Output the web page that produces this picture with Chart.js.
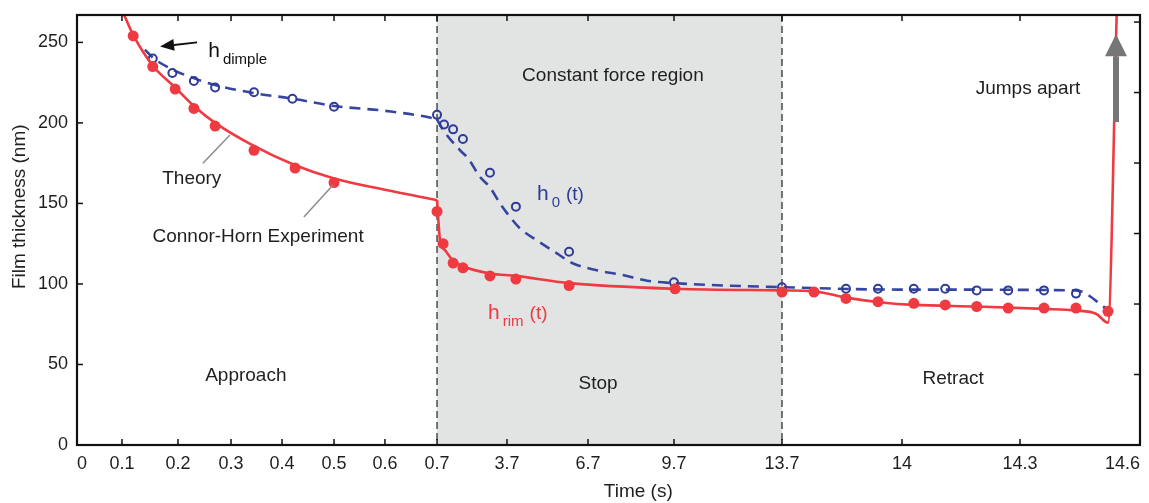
<!DOCTYPE html>
<html>
<head>
<meta charset="utf-8">
<title>Film thickness vs time</title>
<script src="https://cdn.jsdelivr.net/npm/chart.js@4.4.1/dist/chart.umd.min.js"></script>
<style>
  body { margin: 0; background: #fff; }
  canvas { display: block; }
</style>
</head>
<body>
<canvas id="filmChart" width="1149" height="503"></canvas>
<script>
// time axis is broken: every tick gets its own slot, not a linear scale
const timeTicks = [0, 0.1, 0.2, 0.3, 0.4, 0.5, 0.6, 0.7, 3.7, 6.7, 9.7, 13.7, 14, 14.3, 14.6];
const timeTickLabels = ["0", "0.1", "0.2", "0.3", "0.4", "0.5", "0.6", "0.7", "3.7", "6.7", "9.7", "13.7", "14", "14.3", "14.6"];
const thicknessTicks = [0, 50, 100, 150, 200, 250];

// Connor-Horn experiment: rim (filled dots) and centre h0 (open circles)
const rimTimes = [0.12, 0.155, 0.195, 0.23, 0.27, 0.345, 0.425, 0.5, 0.7, 0.96, 1.39, 1.81, 2.97, 4.03, 6.0, 9.74, 13.7, 13.78, 13.86, 13.94, 14.03, 14.11, 14.19, 14.27, 14.36, 14.44, 14.52];
const rimValues = [254, 235, 221, 209, 198, 183, 172, 163, 145, 125, 113, 110, 105, 103, 99, 97, 95, 95, 91, 89, 88, 87, 86, 85, 85, 85, 83];

const centreTimes = [0.155, 0.19, 0.23, 0.27, 0.345, 0.42, 0.5, 0.7, 1.0, 1.39, 1.81, 2.97, 4.03, 6.0, 9.7, 13.7, 13.86, 13.94, 14.03, 14.11, 14.19, 14.27, 14.36, 14.44];
const centreValues = [240, 231, 226, 222, 219, 215, 210, 205, 199, 196, 190, 169, 148, 120, 101, 98, 97, 97, 97, 97, 96, 96, 96, 94];

// theory curves
const rimTheoryTimes = [0.1, 0.121, 0.155, 0.195, 0.23, 0.268, 0.343, 0.423, 0.5, 0.6, 0.7, 0.83, 1.04, 1.39, 1.81, 2.97, 4.03, 6.0, 9.74, 13.7, 13.78, 13.86, 13.95, 14.03, 14.19, 14.36, 14.44, 14.49, 14.52, 14.542];
const rimTheoryValues = [270, 254, 235.5, 222, 210.5, 200.5, 186, 174, 165.5, 158.5, 152, 127, 121, 114.5, 111, 106.5, 105, 100.5, 97, 96, 95.5, 91.5, 88.5, 87, 86, 84.5, 83.5, 81.5, 76, 270];

const centreTheoryTimes = [0.141, 0.155, 0.191, 0.232, 0.27, 0.345, 0.421, 0.5, 0.6, 0.69, 0.7, 1.04, 1.69, 2.03, 2.54, 2.97, 3.4, 3.7, 4.18, 4.81, 5.55, 6.11, 7.01, 7.92, 8.76, 9.7, 13.7, 13.99, 14.44, 14.52];
const centreTheoryValues = [245.5, 240.5, 233, 227.5, 223.5, 218.5, 215, 210.5, 207.5, 203, 202, 194, 183, 178, 166.5, 160, 150, 144, 134.5, 127, 119, 113, 108.5, 105.5, 102, 100.5, 98, 96.5, 96, 84];

const stopStart = 0.7;
const stopEnd = 13.7;

// where each time tick sits along the axis (fraction of the width)
const tickSlots = [0, 0.0423, 0.095, 0.1449, 0.1929, 0.2418, 0.2897, 0.3387, 0.4045, 0.4807, 0.5616, 0.6632, 0.7761, 0.8871, 1];

const RED = "#ef3a41";
const BLUE = "#2f3c97";
const INK = "#1f1f1f";
const FONT = '"Liberation Sans", Arial, Helvetica, sans-serif';

function lerpTable(v, from, to) {
  if (v <= from[0]) return to[0] + (v - from[0]) * (to[1] - to[0]) / (from[1] - from[0]);
  for (let i = 1; i < from.length; i++) {
    if (v <= from[i]) {
      const f = (v - from[i - 1]) / (from[i] - from[i - 1]);
      return to[i - 1] + f * (to[i] - to[i - 1]);
    }
  }
  const n = from.length - 1;
  return to[n] + (v - from[n]) * (to[n] - to[n - 1]) / (from[n] - from[n - 1]);
}

class SegmentedTimeScale extends Chart.LinearScale {
  static id = "segmentedTime";
  static defaults = Chart.LinearScale.defaults;

  determineDataLimits() {
    this.min = timeTicks[0];
    this.max = timeTicks[timeTicks.length - 1];
  }
  buildTicks() {
    return timeTicks.map((value) => ({ value }));
  }
  getPixelForValue(value) {
    return this.getPixelForDecimal(lerpTable(value, timeTicks, tickSlots));
  }
  getValueForPixel(pixel) {
    return lerpTable(this.getDecimalForPixel(pixel), tickSlots, timeTicks);
  }
}
Chart.register(SegmentedTimeScale);

const toPoints = (xs, ys) => xs.map((x, i) => ({ x, y: ys[i] }));
// theory curves have a kink where the stop starts, so split them there
const beforeStop = (pts) => pts.filter((p) => p.x <= stopStart);
const fromStop = (pts) => pts.filter((p) => p.x >= stopStart);

// plain labels, placed in data units (time, thickness)
const notes = [
  { text: "Constant force region", t: 7.57, v: 229 },
  { text: "Jumps apart", t: 14.32, v: 221 },
  { text: "Approach", t: 0.329, v: 43 },
  { text: "Stop", t: 7.05, v: 38 },
  { text: "Retract", t: 14.13, v: 41 },
  { text: "Theory", t: 0.226, v: 165.5 },
  { text: "Connor-Horn Experiment", t: 0.353, v: 129 },
];

function arrow(ctx, x0, y0, x1, y1, head, half, width, color) {
  const a = Math.atan2(y1 - y0, x1 - x0);
  const bx = x1 - head * Math.cos(a);
  const by = y1 - head * Math.sin(a);
  ctx.strokeStyle = color;
  ctx.fillStyle = color;
  ctx.lineWidth = width;
  ctx.lineCap = "butt";
  ctx.beginPath();
  ctx.moveTo(x0, y0);
  ctx.lineTo(bx, by);
  ctx.stroke();
  ctx.beginPath();
  ctx.moveTo(x1, y1);
  ctx.lineTo(bx + half * Math.sin(a), by - half * Math.cos(a));
  ctx.lineTo(bx - half * Math.sin(a), by + half * Math.cos(a));
  ctx.closePath();
  ctx.fill();
}

function subLabel(ctx, x, y, base, sub, tail, color) {
  ctx.fillStyle = color;
  ctx.textAlign = "left";
  ctx.textBaseline = "alphabetic";
  ctx.font = `21px ${FONT}`;
  ctx.fillText(base, x, y);
  let cx = x + ctx.measureText(base).width + 3;
  ctx.font = `15px ${FONT}`;
  ctx.fillText(sub, cx, y + 7);
  cx += ctx.measureText(sub).width + 6;
  if (tail) {
    ctx.font = `19px ${FONT}`;
    ctx.fillText(tail, cx, y);
  }
}

const figureDecor = {
  id: "figureDecor",
  beforeDatasetsDraw(chart) {
    const { ctx, chartArea: area, scales } = chart;
    const xl = scales.x.getPixelForValue(stopStart);
    const xr = scales.x.getPixelForValue(stopEnd);
    ctx.save();
    ctx.fillStyle = "#e2e4e4";
    ctx.fillRect(xl, area.top, xr - xl, area.bottom - area.top);
    ctx.strokeStyle = "#4a4a4a";
    ctx.lineWidth = 1.5;
    ctx.setLineDash([7, 4]);
    [xl, xr].forEach((px) => {
      ctx.beginPath();
      ctx.moveTo(px, area.top);
      ctx.lineTo(px, area.bottom);
      ctx.stroke();
    });
    ctx.restore();
  },
  afterDatasetsDraw(chart) {
    const { ctx, scales } = chart;
    const px = (t) => scales.x.getPixelForValue(t);
    const py = (v) => scales.y.getPixelForValue(v);
    ctx.save();

    // pointer lines for the Theory / Experiment labels
    ctx.strokeStyle = "#8c8c8c";
    ctx.lineWidth = 1.5;
    [[0.247, 175, 0.298, 192.5], [0.442, 141.5, 0.498, 161.5]].forEach(([t0, v0, t1, v1]) => {
      ctx.beginPath();
      ctx.moveTo(px(t0), py(v0));
      ctx.lineTo(px(t1), py(v1));
      ctx.stroke();
    });

    // h_dimple arrow and the big "jumps apart" arrow
    arrow(ctx, px(0.236), py(250), px(0.168), py(247.5), 14, 6, 2, "#111");
    arrow(ctx, px(14.54), py(200.5), px(14.54), py(255), 22, 11, 6, "#767676");

    ctx.font = `19px ${FONT}`;
    ctx.fillStyle = INK;
    ctx.textAlign = "center";
    ctx.textBaseline = "middle";
    notes.forEach((n) => ctx.fillText(n.text, px(n.t), py(n.v)));

    subLabel(ctx, px(0.257), py(241), "h", "dimple", "", "#111");
    subLabel(ctx, px(4.81), py(152), "h", "0", "(t)", BLUE);
    subLabel(ctx, px(2.89), py(78.5), "h", "rim", "(t)", RED);
    ctx.restore();
  },
  afterDraw(chart) {
    const { ctx, chartArea: area, scales } = chart;
    ctx.save();
    ctx.strokeStyle = "#111";
    ctx.lineWidth = 1.5;
    const tick = 6;
    scales.x.ticks.forEach((tk, i) => {
      if (i === 0 || i === scales.x.ticks.length - 1) return;
      const x = scales.x.getPixelForValue(tk.value);
      ctx.beginPath();
      ctx.moveTo(x, area.bottom);
      ctx.lineTo(x, area.bottom - tick);
      ctx.moveTo(x, area.top);
      ctx.lineTo(x, area.top + tick);
      ctx.stroke();
    });
    scales.y.ticks.forEach((tk) => {
      const y = scales.y.getPixelForValue(tk.value);
      ctx.beginPath();
      ctx.moveTo(area.left, y);
      ctx.lineTo(area.left + tick, y);
      ctx.stroke();
    });
    scales.y2.ticks.forEach((tk) => {
      const y = scales.y2.getPixelForValue(tk.value);
      ctx.beginPath();
      ctx.moveTo(area.right, y);
      ctx.lineTo(area.right - tick, y);
      ctx.stroke();
    });
    ctx.lineWidth = 2.2;
    ctx.strokeRect(area.left, area.top, area.right - area.left, area.bottom - area.top);

    // axis titles
    ctx.fillStyle = INK;
    ctx.font = `19px ${FONT}`;
    ctx.textAlign = "center";
    ctx.textBaseline = "middle";
    ctx.fillText("Time (s)", area.left + (area.right - area.left) * 0.528, area.bottom + 47);
    ctx.translate(20, area.top + (area.bottom - area.top) * 0.446);
    ctx.rotate(-Math.PI / 2);
    ctx.fillText("Film thickness (nm)", 0, 0);
    ctx.restore();
  },
};

const tickFont = { family: FONT, size: 18 };

const rimTheory = toPoints(rimTheoryTimes, rimTheoryValues);
const centreTheory = toPoints(centreTheoryTimes, centreTheoryValues);

const rimLine = {
  showLine: true,
  borderColor: RED,
  borderWidth: 2.6,
  pointRadius: 0,
  cubicInterpolationMode: "monotone",
};
const centreLine = {
  showLine: true,
  borderColor: "#3645a0",
  borderWidth: 2.6,
  borderDash: [11, 7],
  pointRadius: 0,
  cubicInterpolationMode: "monotone",
};

new Chart(document.getElementById("filmChart"), {
  type: "scatter",
  data: {
    datasets: [
      {
        label: "h_rim experiment",
        data: toPoints(rimTimes, rimValues),
        pointRadius: 5.5,
        pointBackgroundColor: RED,
        pointBorderWidth: 0,
        showLine: false,
      },
      { label: "h_rim theory (approach)", data: beforeStop(rimTheory), ...rimLine },
      { label: "h_rim theory", data: fromStop(rimTheory), ...rimLine },
      {
        label: "h0 experiment",
        data: toPoints(centreTimes, centreValues),
        pointRadius: 4,
        pointBorderWidth: 2,
        pointBorderColor: BLUE,
        pointBackgroundColor: "rgba(0,0,0,0)",
        showLine: false,
      },
      { label: "h0 theory (approach)", data: beforeStop(centreTheory), ...centreLine },
      { label: "h0 theory", data: fromStop(centreTheory), ...centreLine },
    ],
  },
  options: {
    responsive: false,
    animation: false,
    layout: { padding: { top: 15, right: 9, bottom: 0, left: 0 } },
    plugins: {
      legend: { display: false },
      tooltip: { enabled: false },
    },
    scales: {
      x: {
        type: "segmentedTime",
        grid: { display: false, drawTicks: false, tickLength: 0 },
        border: { display: false },
        ticks: {
          font: tickFont,
          color: INK,
          padding: 8,
          align: "inner",
          maxRotation: 0,
          autoSkip: false,
          callback: (value, index) => timeTickLabels[index],
        },
        afterFit: (s) => {
          s.height = 58;
          s.paddingLeft = 0;
          s.paddingRight = 0;
        },
      },
      y: {
        min: 0,
        max: 267,
        grid: { display: false, drawTicks: false, tickLength: 0 },
        border: { display: false },
        afterBuildTicks: (s) => {
          s.ticks = thicknessTicks.map((value) => ({ value }));
        },
        ticks: { font: tickFont, color: INK, padding: 9 },
        afterFit: (s) => {
          s.width = 77;
          s.paddingTop = 0;
          s.paddingBottom = 0;
        },
      },
      y2: {
        position: "right",
        min: 0,
        max: 6.1,
        grid: { display: false, drawTicks: false, tickLength: 0 },
        border: { display: false },
        ticks: { display: false, stepSize: 1, includeBounds: false },
        afterFit: (s) => {
          s.width = 0;
          s.paddingTop = 0;
          s.paddingBottom = 0;
        },
      },
    },
  },
  plugins: [figureDecor],
});
</script>
</body>
</html>
